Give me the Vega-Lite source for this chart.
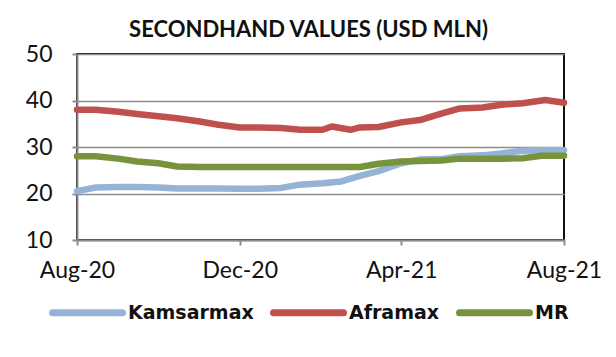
{
  "$schema": "https://vega.github.io/schema/vega-lite/v6.json",
  "autosize": "none",
  "width": 487,
  "height": 186,
  "padding": {"left": 77, "top": 54, "right": 52, "bottom": 117},
  "background": "white",
  "title": {
    "text": "SECONDHAND VALUES (USD MLN)",
    "font": "Lato",
    "fontSize": 22,
    "fontWeight": "bold",
    "color": "#111111",
    "anchor": "middle",
    "dx": -12,
    "offset": 1
  },
  "config": {
    "view": {"stroke": "#111111", "strokeWidth": 2},
    "axis": {"labelFont": "Lato", "labelFontSize": 23, "labelColor": "#111111"},
    "legend": {"labelFont": "DejaVu Sans"}
  },
  "datasets": {
    "vals": [
      {"date": "2020-08-01", "series": "Kamsarmax", "value": 20.5},
      {"date": "2020-08-15", "series": "Kamsarmax", "value": 21.3},
      {"date": "2020-09-01", "series": "Kamsarmax", "value": 21.4},
      {"date": "2020-09-15", "series": "Kamsarmax", "value": 21.4},
      {"date": "2020-10-01", "series": "Kamsarmax", "value": 21.3},
      {"date": "2020-10-15", "series": "Kamsarmax", "value": 21.1},
      {"date": "2020-11-01", "series": "Kamsarmax", "value": 21.1},
      {"date": "2020-11-15", "series": "Kamsarmax", "value": 21.1},
      {"date": "2020-12-01", "series": "Kamsarmax", "value": 21.0},
      {"date": "2020-12-15", "series": "Kamsarmax", "value": 21.0},
      {"date": "2021-01-01", "series": "Kamsarmax", "value": 21.2},
      {"date": "2021-01-15", "series": "Kamsarmax", "value": 21.9},
      {"date": "2021-02-01", "series": "Kamsarmax", "value": 22.2},
      {"date": "2021-02-15", "series": "Kamsarmax", "value": 22.6},
      {"date": "2021-03-01", "series": "Kamsarmax", "value": 23.8},
      {"date": "2021-03-15", "series": "Kamsarmax", "value": 24.8},
      {"date": "2021-04-01", "series": "Kamsarmax", "value": 26.5},
      {"date": "2021-04-15", "series": "Kamsarmax", "value": 27.3},
      {"date": "2021-05-01", "series": "Kamsarmax", "value": 27.4},
      {"date": "2021-05-15", "series": "Kamsarmax", "value": 28.0},
      {"date": "2021-06-01", "series": "Kamsarmax", "value": 28.2},
      {"date": "2021-06-15", "series": "Kamsarmax", "value": 28.6},
      {"date": "2021-07-01", "series": "Kamsarmax", "value": 29.2},
      {"date": "2021-07-15", "series": "Kamsarmax", "value": 29.3},
      {"date": "2021-08-01", "series": "Kamsarmax", "value": 29.3},
      {"date": "2020-08-01", "series": "Aframax", "value": 38.0},
      {"date": "2020-08-15", "series": "Aframax", "value": 38.0},
      {"date": "2020-09-01", "series": "Aframax", "value": 37.6},
      {"date": "2020-09-15", "series": "Aframax", "value": 37.1},
      {"date": "2020-10-01", "series": "Aframax", "value": 36.6},
      {"date": "2020-10-15", "series": "Aframax", "value": 36.2},
      {"date": "2020-11-01", "series": "Aframax", "value": 35.5},
      {"date": "2020-11-15", "series": "Aframax", "value": 34.8},
      {"date": "2020-12-01", "series": "Aframax", "value": 34.2},
      {"date": "2020-12-15", "series": "Aframax", "value": 34.2},
      {"date": "2021-01-01", "series": "Aframax", "value": 34.1},
      {"date": "2021-01-15", "series": "Aframax", "value": 33.7},
      {"date": "2021-02-01", "series": "Aframax", "value": 33.7},
      {"date": "2021-02-08", "series": "Aframax", "value": 34.4},
      {"date": "2021-02-22", "series": "Aframax", "value": 33.7},
      {"date": "2021-03-01", "series": "Aframax", "value": 34.2},
      {"date": "2021-03-15", "series": "Aframax", "value": 34.3},
      {"date": "2021-04-01", "series": "Aframax", "value": 35.3},
      {"date": "2021-04-15", "series": "Aframax", "value": 35.8},
      {"date": "2021-05-01", "series": "Aframax", "value": 37.2},
      {"date": "2021-05-15", "series": "Aframax", "value": 38.3},
      {"date": "2021-06-01", "series": "Aframax", "value": 38.5},
      {"date": "2021-06-15", "series": "Aframax", "value": 39.1},
      {"date": "2021-07-01", "series": "Aframax", "value": 39.4},
      {"date": "2021-07-18", "series": "Aframax", "value": 40.1},
      {"date": "2021-08-01", "series": "Aframax", "value": 39.5},
      {"date": "2020-08-01", "series": "MR", "value": 28.0},
      {"date": "2020-08-15", "series": "MR", "value": 28.0},
      {"date": "2020-09-01", "series": "MR", "value": 27.5},
      {"date": "2020-09-15", "series": "MR", "value": 26.9},
      {"date": "2020-10-01", "series": "MR", "value": 26.5},
      {"date": "2020-10-15", "series": "MR", "value": 25.8},
      {"date": "2020-11-01", "series": "MR", "value": 25.7},
      {"date": "2020-12-01", "series": "MR", "value": 25.7},
      {"date": "2021-01-01", "series": "MR", "value": 25.7},
      {"date": "2021-02-01", "series": "MR", "value": 25.7},
      {"date": "2021-03-01", "series": "MR", "value": 25.7},
      {"date": "2021-03-15", "series": "MR", "value": 26.4},
      {"date": "2021-04-01", "series": "MR", "value": 26.9},
      {"date": "2021-04-15", "series": "MR", "value": 27.0},
      {"date": "2021-05-01", "series": "MR", "value": 27.1},
      {"date": "2021-05-15", "series": "MR", "value": 27.5},
      {"date": "2021-06-01", "series": "MR", "value": 27.5},
      {"date": "2021-06-15", "series": "MR", "value": 27.5},
      {"date": "2021-07-01", "series": "MR", "value": 27.6},
      {"date": "2021-07-15", "series": "MR", "value": 28.1},
      {"date": "2021-08-01", "series": "MR", "value": 28.1}
    ]
  },
  "data": {"name": "vals"},
  "mark": {"type": "line", "strokeWidth": 6.5, "strokeCap": "round", "strokeJoin": "round"},
  "encoding": {
    "x": {
      "field": "date",
      "type": "temporal",
      "scale": {"domain": ["2020-08-01", "2021-08-01"]},
      "axis": {
        "title": null,
        "values": ["2020-08-01", "2020-12-01", "2021-04-01", "2021-08-01"],
        "format": "%b-%y",
        "grid": false,
        "domainColor": "#8c8c8c",
        "domainWidth": 2,
        "tickColor": "#8c8c8c",
        "tickWidth": 2,
        "tickSize": 5,
        "labelPadding": 14,
        "labelFlush": false
      }
    },
    "y": {
      "field": "value",
      "type": "quantitative",
      "scale": {"domain": [10, 50]},
      "axis": {
        "title": null,
        "values": [10, 20, 30, 40, 50],
        "grid": true,
        "gridColor": "#8c8c8c",
        "gridWidth": 1.5,
        "domainColor": "#8c8c8c",
        "domainWidth": 2,
        "tickColor": "#8c8c8c",
        "tickWidth": 2,
        "tickSize": 5,
        "labelPadding": 20
      }
    },
    "color": {
      "field": "series",
      "type": "nominal",
      "scale": {"domain": ["Kamsarmax", "Aframax", "MR"], "range": ["#95B3D7", "#C0504D", "#77933C"]},
      "legend": {
        "title": null,
        "orient": "none",
        "direction": "horizontal",
        "legendX": -28,
        "legendY": 220,
        "symbolType": "stroke",
        "symbolSize": 4900,
        "symbolStrokeWidth": 7,
        "labelFontSize": 19,
        "labelFontWeight": "bold",
        "labelColor": "#111111",
        "labelOffset": 2,
        "columnPadding": 5,
        "encode": {"symbols": {"update": {"strokeCap": {"value": "round"}}}}
      }
    }
  }
}
